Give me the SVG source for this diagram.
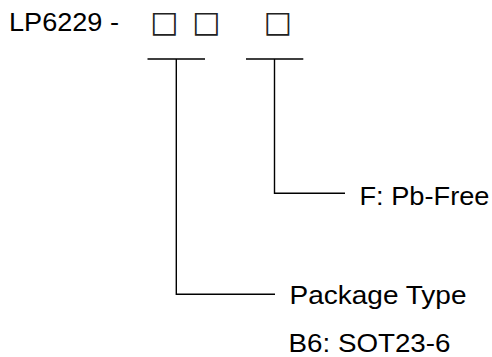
<svg xmlns="http://www.w3.org/2000/svg" width="492" height="357" viewBox="0 0 492 357">
<style>
.t{font-family:"Liberation Sans",Arial,sans-serif;font-size:25px;fill:#000}
.b{font-family:"DejaVu Sans",sans-serif;font-size:30px;fill:#222}
.c{fill:none;stroke:#000;stroke-width:1.4}
</style>
<rect width="492" height="357" fill="#fff"/>
<g id="part">
<text class="t" x="9" y="30.7" textLength="110" lengthAdjust="spacingAndGlyphs">LP6229 -</text>
<text class="b" x="150" y="31.5">□</text>
<text class="b" x="192" y="31.5">□</text>
<text class="b" x="263.5" y="31.5">□</text>
</g>
<g id="connectors">
<path class="c" d="M147.5 59H205M176.3 59V294.3H275"/>
<path class="c" d="M246 59H303.3M274.5 59V193.3H345"/>
</g>
<g id="pbfree"><text class="t" x="359.5" y="205" textLength="130" lengthAdjust="spacingAndGlyphs">F: Pb-Free</text></g>
<g id="package"><text class="t" x="289.5" y="304" textLength="177" lengthAdjust="spacingAndGlyphs">Package Type</text>
<text class="t" x="288.5" y="351.7" textLength="162" lengthAdjust="spacingAndGlyphs">B6: SOT23-6</text></g>
</svg>
